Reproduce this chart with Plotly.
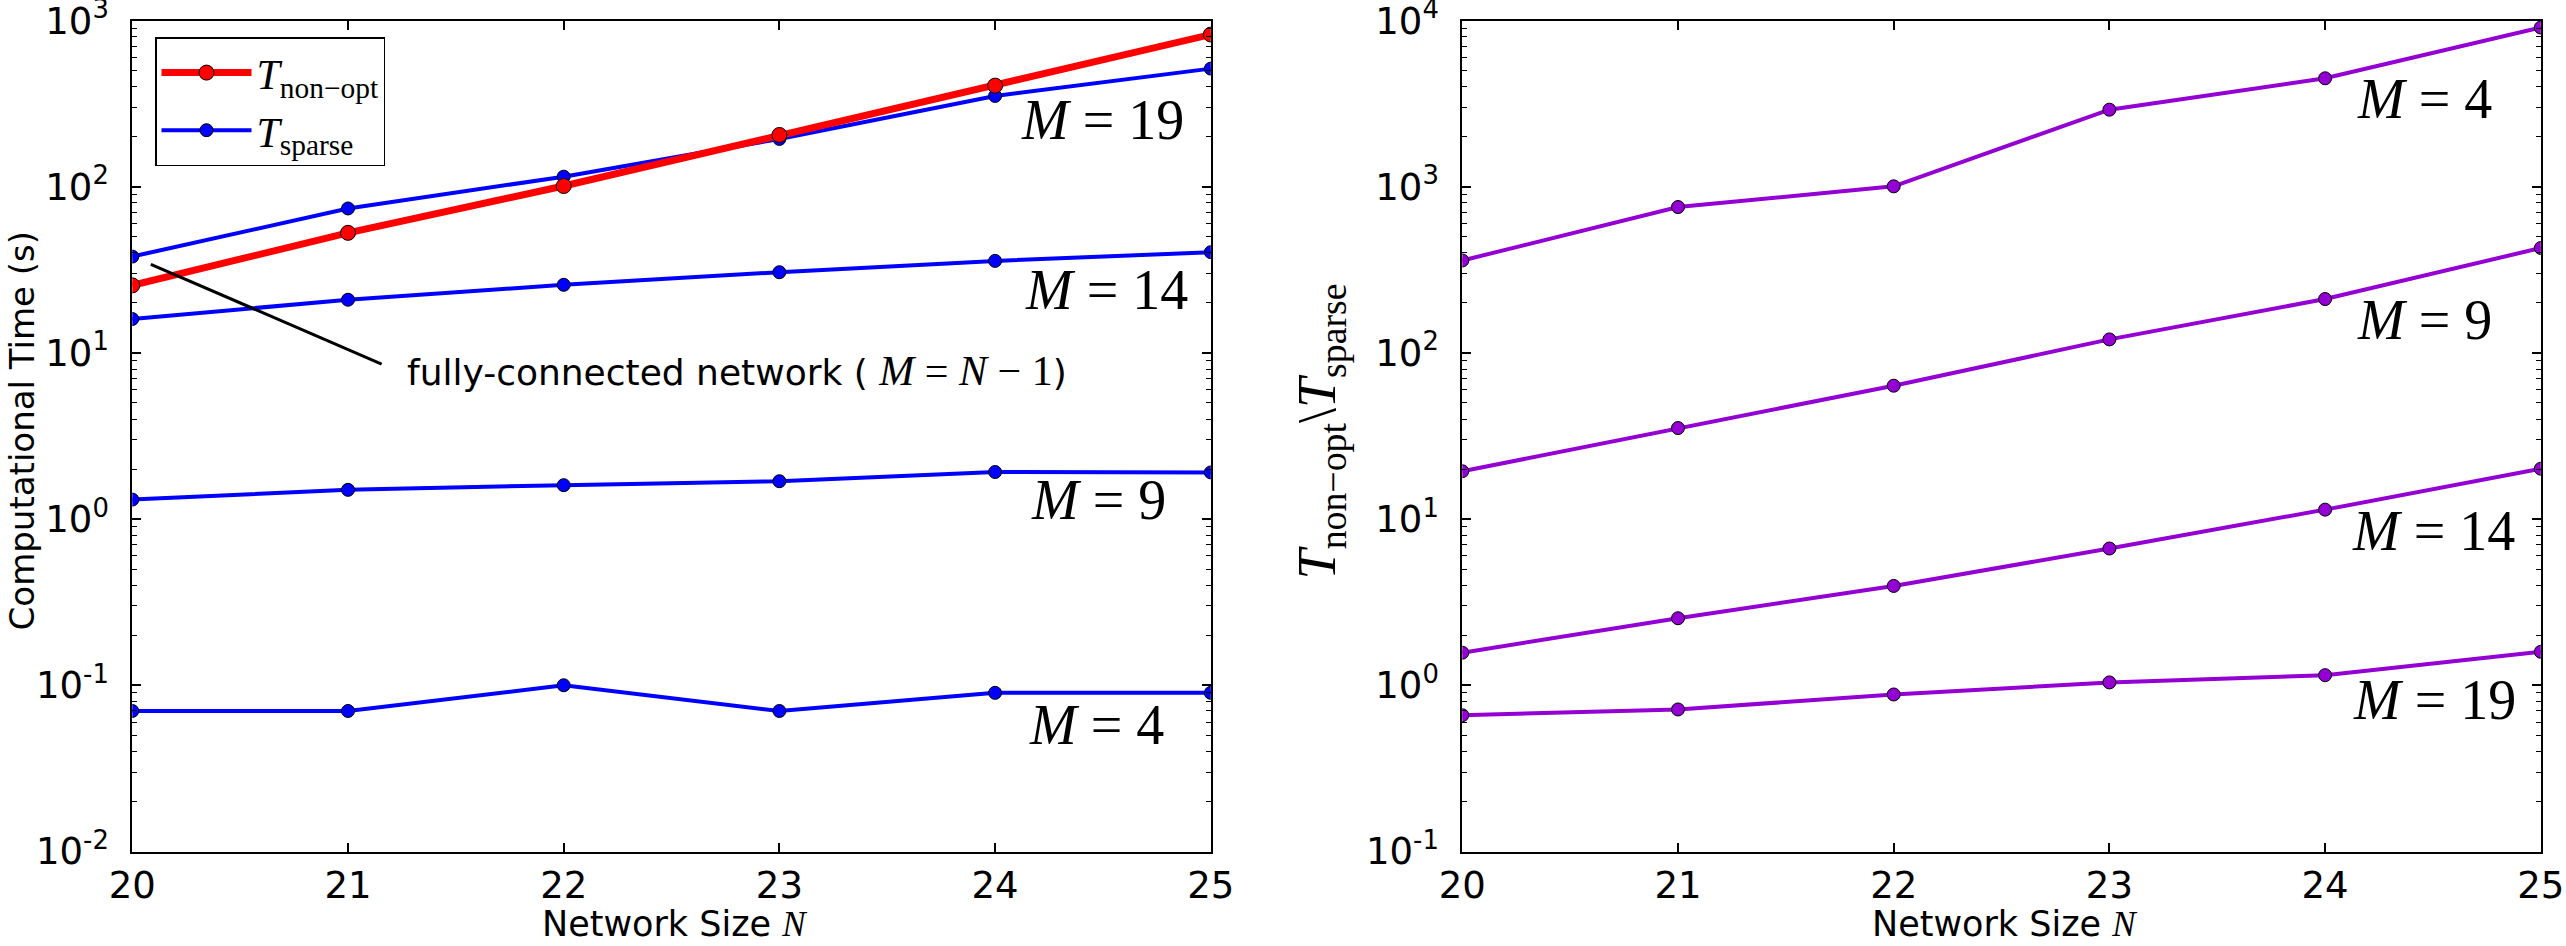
import plotly.graph_objects as go

# ---------------- data ----------------
N = [20, 21, 22, 23, 24, 25]

t_nonopt = [25.5, 52.8, 101, 205, 406, 824]
t_sparse_m4 = [0.07, 0.07, 0.10, 0.07, 0.09, 0.09]
t_sparse_m9 = [1.31, 1.50, 1.60, 1.69, 1.92, 1.91]
t_sparse_m14 = [16.0, 20.9, 25.7, 30.6, 35.8, 40.4]
t_sparse_m19 = [38, 74, 115, 194, 352, 514]

ratio_m4 = [360, 755, 1006, 2910, 4495, 9080]
ratio_m9 = [19.4, 35.3, 63.5, 120.6, 211, 428]
ratio_m14 = [1.57, 2.53, 3.96, 6.65, 11.4, 20.1]
ratio_m19 = [0.66, 0.715, 0.88, 1.04, 1.15, 1.59]

left_exps = [-2, -1, 0, 1, 2, 3]
right_exps = [-1, 0, 1, 2, 3, 4]

# ---------------- styles ----------------
BLUE = "#0000FF"
RED = "#FF0000"
PURPLE = "#9400D3"
SANS = "DejaVu Sans"
SERIF = "Liberation Serif"


def serif(s, size=None):
    st = f"font-family:{SERIF}"
    if size:
        st += f";font-size:{size}px"
    return f"<span style='{st}'>{s}</span>"


fig = go.Figure()

sparse_series = [t_sparse_m4, t_sparse_m9, t_sparse_m14, t_sparse_m19]
for i, ys in enumerate(sparse_series):
    fig.add_trace(go.Scatter(
        x=N, y=ys, mode="lines+markers",
        line=dict(color=BLUE, width=4),
        marker=dict(color=BLUE, size=13, line=dict(color="black", width=1)),
        name="<i>T</i><sub>sparse</sub>",
        legendgroup="sparse", legendrank=2,
        showlegend=(i == 3),
        xaxis="x", yaxis="y",
    ))

fig.add_trace(go.Scatter(
    x=N, y=t_nonopt, mode="lines+markers",
    line=dict(color=RED, width=7),
    marker=dict(color=RED, size=15, line=dict(color="black", width=1)),
    name="<i>T</i><sub>non\u2212opt</sub>",
    legendgroup="nonopt", legendrank=1,
    xaxis="x", yaxis="y",
))

for ys in [ratio_m4, ratio_m9, ratio_m14, ratio_m19]:
    fig.add_trace(go.Scatter(
        x=N, y=ys, mode="lines+markers",
        line=dict(color=PURPLE, width=4),
        marker=dict(color=PURPLE, size=13, line=dict(color="black", width=1)),
        showlegend=False,
        xaxis="x2", yaxis="y2",
    ))


def minor_vals(exps):
    vals = []
    for e in exps[:-1]:
        for m in range(2, 10):
            vals.append(m * 10 ** e)
    return vals


def xaxis_cfg(domain, anchor):
    return dict(
        domain=domain, anchor=anchor, range=[20, 25],
        tickvals=N, ticktext=[str(n) for n in N],
        ticks="inside", ticklen=9, tickwidth=1.5, tickcolor="black",
        mirror="ticks", showline=True, linecolor="black", linewidth=2,
        showgrid=False, zeroline=False, automargin=False,
        tickfont=dict(family=SANS, size=37, color="black"),
        ticklabelstandoff=0, ticklabeloverflow="allow",
    )


def yaxis_cfg(domain, anchor, exps):
    return dict(
        domain=domain, anchor=anchor, type="log",
        range=[exps[0] - 0.0005, exps[-1] + 0.0005],
        tickvals=[10 ** e for e in exps],
        ticktext=[f"10<sup>{e}</sup>" for e in exps],
        ticks="inside", ticklen=9, tickwidth=1.5, tickcolor="black",
        minor=dict(ticks="inside", ticklen=5, tickwidth=1.2, tickcolor="black",
                   tickvals=minor_vals(exps), showgrid=False),
        mirror="ticks", showline=True, linecolor="black", linewidth=2,
        showgrid=False, zeroline=False, automargin=False,
        tickfont=dict(family=SANS, size=37, color="black"),
        ticklabelstandoff=14, ticklabeloverflow="allow",
    )


YDOM = [1 - 851.5 / 946, 1 - 20.5 / 946]
X1DOM = [132.3 / 2566, 1210.8 / 2566]
X2DOM = [1462.3 / 2566, 2540.8 / 2566]

annotations = []

MFONT = dict(family=SERIF, size=56, color="black")
# M labels
left_labels = [("19", 0.977, 0.880), ("14", 0.981, 0.676), ("9", 0.960, 0.423), ("4", 0.958, 0.152)]
for m, xd, yd in left_labels:
    annotations.append(dict(
        xref="x domain", yref="y domain", x=xd, y=yd,
        text=f"<i>M</i> = {m}", showarrow=False, xanchor="right", yanchor="middle",
        font=MFONT,
    ))
right_labels = [("4", 0.957, 0.906), ("9", 0.957, 0.640), ("14", 0.978, 0.386), ("19", 0.979, 0.182)]
for m, xd, yd in right_labels:
    annotations.append(dict(
        xref="x2 domain", yref="y2 domain", x=xd, y=yd,
        text=f"<i>M</i> = {m}", showarrow=False, xanchor="right", yanchor="middle",
        font=MFONT,
    ))

# fully-connected note
annotations.append(dict(
    xref="x domain", yref="y domain", x=0.2529, y=0.578,
    text="fully-connected network ( " + serif("<i>M</i> = <i>N</i> \u2212 1", 42) + ")",
    showarrow=False, xanchor="left", yanchor="middle",
    font=dict(family=SANS, size=36, color="black"),
))

# axis titles
annotations.append(dict(
    xref="paper", yref="paper", x=0.0, y=0.544,
    text="Computational Time (s)", textangle=-90, showarrow=False,
    xanchor="left", yanchor="middle",
    font=dict(family=SANS, size=34, color="black"),
))
annotations.append(dict(
    xref="paper", yref="paper", x=1320 / 2566, y=0.544,
    text="<i>T</i><sub>non\u2212opt</sub>\\<i>T</i><sub>sparse</sub>", textangle=-90,
    showarrow=False, xanchor="center", yanchor="middle",
    font=dict(family=SERIF, size=54, color="black"),
))
for xc in [674 / 2566, 2004 / 2566]:
    annotations.append(dict(
        xref="paper", yref="paper", x=xc, y=0,
        text="Network Size " + serif("<i>N</i>"), showarrow=False,
        xanchor="center", yanchor="bottom",
        font=dict(family=SANS, size=35, color="black"),
    ))

shapes = [dict(
    type="line", xref="x domain", yref="y domain",
    x0=0.0172, y0=0.7066, x1=0.2312, y1=0.5866,
    line=dict(color="black", width=3),
)]

fig.update_layout(
    width=2566, height=946,
    margin=dict(l=0, r=0, t=0, b=0, autoexpand=False),
    paper_bgcolor="white", plot_bgcolor="white",
    xaxis=xaxis_cfg(X1DOM, "y"),
    yaxis=yaxis_cfg(YDOM, "x", left_exps),
    xaxis2=xaxis_cfg(X2DOM, "y2"),
    yaxis2=yaxis_cfg(YDOM, "x2", right_exps),
    annotations=annotations,
    shapes=shapes,
    legend=dict(
        x=155 / 2566, y=1 - 37.3 / 946, xanchor="left", yanchor="top",
        bordercolor="black", borderwidth=1.5, bgcolor="white",
        font=dict(family=SERIF, size=42, color="black"),
        traceorder="normal", tracegroupgap=16, itemwidth=90,
    ),
)

fig.write_html("out.html")
